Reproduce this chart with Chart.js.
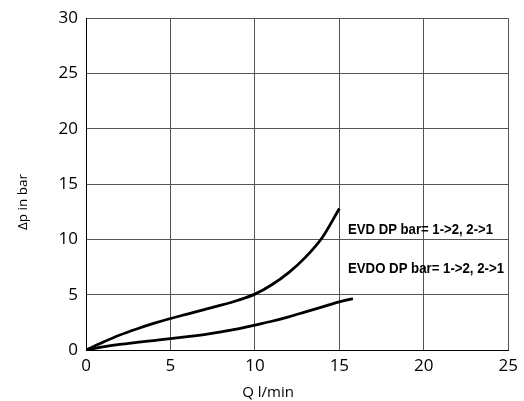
<!DOCTYPE html>
<html>
<head>
<meta charset="utf-8">
<script src="https://cdn.jsdelivr.net/npm/chart.js@4/dist/chart.umd.min.js"></script>
<style>
  html, body { margin: 0; padding: 0; background: #fff; }
  #wrap { width: 524px; height: 401px; }
</style>
</head>
<body>
<div id="wrap"><canvas id="chart"></canvas></div>
<script>
const xTicks = [0, 5, 10, 15, 20, 25];
const yTicks = [0, 5, 10, 15, 20, 25, 30];

const evdX = [0, 1, 2, 3, 4, 5, 6, 7, 8, 9, 10, 11, 12, 13, 14, 15];
const evdY = [0, 0.7, 1.35, 1.9, 2.4, 2.85, 3.25, 3.65, 4.05, 4.5, 5.05, 5.9, 7.0, 8.4, 10.2, 12.8];

const evdoX = [0, 1, 2, 3, 4, 5, 6, 7, 8, 9, 10, 11, 12, 13, 14, 15, 15.8];
const evdoY = [0, 0.28, 0.5, 0.68, 0.85, 1.02, 1.2, 1.4, 1.63, 1.9, 2.25, 2.6, 3.0, 3.45, 3.9, 4.35, 4.65];

const seriesLabels = ["EVD DP bar= 1->2, 2->1", "EVDO DP bar= 1->2, 2->1"];

function toPoints(xs, ys) {
  return xs.map((x, i) => ({ x: x, y: ys[i] }));
}

// condensed bold text: squeeze to the width seen in the picture
function narrowText(ctx, str, x, y, width) {
  const w = ctx.measureText(str).width;
  ctx.save();
  ctx.translate(x, y);
  ctx.scale(width / w, 1);
  ctx.fillText(str, 0, 0);
  ctx.restore();
}

// axis titles and the in-plot labels
const textPlugin = {
  id: "texts",
  afterDraw(chart) {
    const ctx = chart.ctx;
    ctx.save();
    ctx.fillStyle = "#000";
    ctx.font = 'bold 15px "Liberation Sans"';
    ctx.textAlign = "left";
    ctx.textBaseline = "alphabetic";
    narrowText(ctx, seriesLabels[0], 348, 234, 145);
    narrowText(ctx, seriesLabels[1], 348, 273, 156);

    ctx.font = '15px "Open Sans"';
    ctx.textAlign = "center";
    ctx.textBaseline = "middle";
    ctx.fillText("Q l/min", 268, 393);

    ctx.font = '13.5px "Open Sans"';
    ctx.translate(23, 202);
    ctx.rotate(-Math.PI / 2);
    ctx.fillText("Δp in bar", 0, 0);
    ctx.restore();
  }
};

new Chart(document.getElementById("chart"), {
  type: "scatter",
  data: {
    datasets: [
      {
        label: seriesLabels[0],
        data: toPoints(evdX, evdY),
        showLine: true,
        borderColor: "#000",
        borderWidth: 2.8,
        pointRadius: 0,
        cubicInterpolationMode: "monotone",
      },
      {
        label: seriesLabels[1],
        data: toPoints(evdoX, evdoY),
        showLine: true,
        borderColor: "#000",
        borderWidth: 2.8,
        pointRadius: 0,
        cubicInterpolationMode: "monotone",
      },
    ],
  },
  options: {
    responsive: true,
    maintainAspectRatio: false,
    animation: false,
    layout: { padding: { left: 0, top: 15, right: 15, bottom: 0 } },
    plugins: {
      legend: { display: false },
      tooltip: { enabled: false },
    },
    scales: {
      x: {
        type: "linear",
        min: 0,
        max: 25,
        afterBuildTicks: (s) => { s.ticks = xTicks.map((v) => ({ value: v })); },
        afterFit: (s) => { s.height = 51; },
        ticks: { color: "#000", font: { family: "Open Sans", size: 17 }, padding: 6 },
        grid: { color: "#555", lineWidth: 1, drawTicks: false },
        border: { color: "#000", width: 1 },
      },
      y: {
        type: "linear",
        min: 0,
        max: 30,
        afterBuildTicks: (s) => { s.ticks = yTicks.map((v) => ({ value: v })); },
        afterFit: (s) => { s.width = 86; },
        ticks: { color: "#000", font: { family: "Open Sans", size: 17 }, padding: 8 },
        grid: { color: "#555", lineWidth: 1, drawTicks: false },
        border: { color: "#000", width: 1 },
      },
    },
  },
  plugins: [textPlugin],
});
</script>
</body>
</html>
